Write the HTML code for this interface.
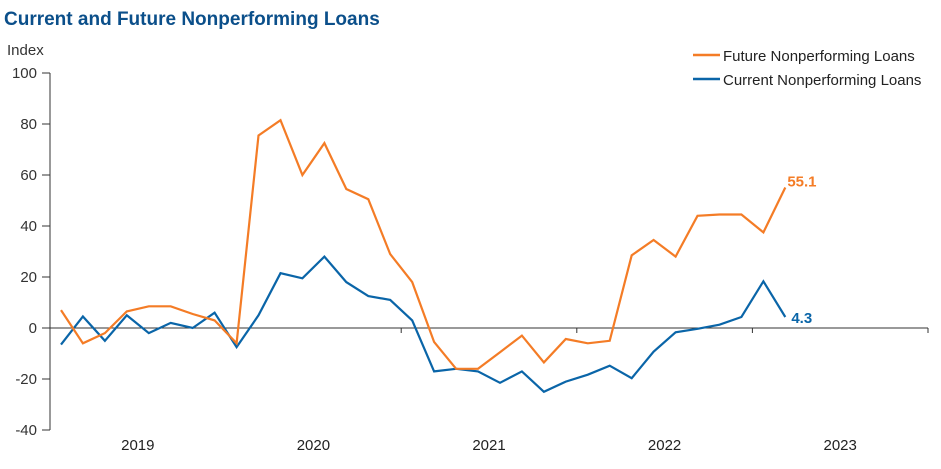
<!DOCTYPE html>
<html><head><meta charset="utf-8"><style>
html,body{margin:0;padding:0;background:#fff;}
svg{display:block;font-family:"Liberation Sans",Arial,sans-serif;}
</style></head><body>
<svg id="chart" width="941" height="469" viewBox="0 0 941 469">
<text x="4" y="25" font-size="19" font-weight="bold" fill="#0b4f8a">Current and Future Nonperforming Loans</text>
<text x="7" y="55" font-size="15" fill="#333">Index</text>
<g id="axes"></g>
<g id="series"></g>
<g>
<line x1="693" y1="55" x2="720" y2="55" stroke="#f47c26" stroke-width="2.5"/>
<text x="723" y="61" font-size="15" fill="#222">Future Nonperforming Loans</text>
<line x1="693" y1="79" x2="720" y2="79" stroke="#0a65a8" stroke-width="2.5"/>
<text x="723" y="85" font-size="15" fill="#222">Current Nonperforming Loans</text>
</g>
</svg>
<script>
const years = ["2019","2020","2021","2022","2023"];
const yTicks = [100,80,60,40,20,0,-20,-40];
const future = [7,-6,-2,6.5,8.5,8.5,5.5,3,-6,75.5,81.5,60,72.5,54.5,50.5,29,18,-5.5,-16,-16,-9.5,-3,-13.5,-4.3,-6,-5,28.5,34.5,28,44,44.5,44.5,37.5,55.1];
const current = [-6.5,4.5,-5,5,-2,2,0,6,-7.5,5,21.5,19.5,28,18,12.5,11,3,-17,-16,-17,-21.5,-17,-25,-21,-18.3,-14.8,-19.7,-9.3,-1.7,-0.3,1.3,4.3,18.3,4.3];
const futureLabel = "55.1";
const currentLabel = "4.3";

const NS="http://www.w3.org/2000/svg";
const x0=50, x1=928, yearW=(x1-x0)/5, perYear=8;
const yv=v=>328-v*2.55;
const xi=i=>x0+yearW/perYear*(i+0.5);
function mk(tag,attrs,parent){const e=document.createElementNS(NS,tag);for(const k in attrs)e.setAttribute(k,attrs[k]);parent.appendChild(e);return e;}
const axes=document.getElementById('axes'), ser=document.getElementById('series');

const ya=mk('line',{x1:x0,y1:yv(100),x2:x0,y2:yv(-40),stroke:'#333','stroke-width':1},axes);


yTicks.forEach(t=>{
  const tk=mk('line',{x1:x0-8,y1:yv(t),x2:x0,y2:yv(t),stroke:'#333'},axes);
  
  
  const tx=mk('text',{x:37,y:yv(t)+5,'font-size':15,fill:'#333','text-anchor':'end'},axes);
  tx.textContent=t;
  
  
});
const xa=mk('line',{x1:x0,y1:yv(0),x2:x1,y2:yv(0),stroke:'#333','stroke-width':1},axes);


years.forEach((y,i)=>{
  const xt=x0+yearW*(i+1);
  const tk=mk('line',{x1:xt,y1:yv(0),x2:xt,y2:yv(0)+5,stroke:'#333'},axes);
  
  
  const tx=mk('text',{x:x0+yearW*(i+0.5),y:450,'font-size':15,fill:'#222','text-anchor':'middle'},axes);
  tx.textContent=y;
  
  
});
function line(arr,color,name){
  const p=mk('polyline',{points:arr.map((v,i)=>xi(i).toFixed(1)+','+yv(v).toFixed(1)).join(' '),fill:'none',stroke:color,'stroke-width':2.2,'stroke-linejoin':'miter'},ser);
  
  
}
line(current,'#0a65a8','current-npl-line');
line(future,'#f47c26','future-npl-line');
const lf=mk('text',{x:xi(future.length-1)+2,y:yv(future[future.length-1])-1,'font-size':15,'font-weight':'bold',fill:'#f47c26'},ser);
lf.textContent=futureLabel;


const lc=mk('text',{x:xi(current.length-1)+6,y:yv(current[current.length-1])+6,'font-size':15,'font-weight':'bold',fill:'#0a65a8'},ser);
lc.textContent=currentLabel;


</script>
</body></html>
